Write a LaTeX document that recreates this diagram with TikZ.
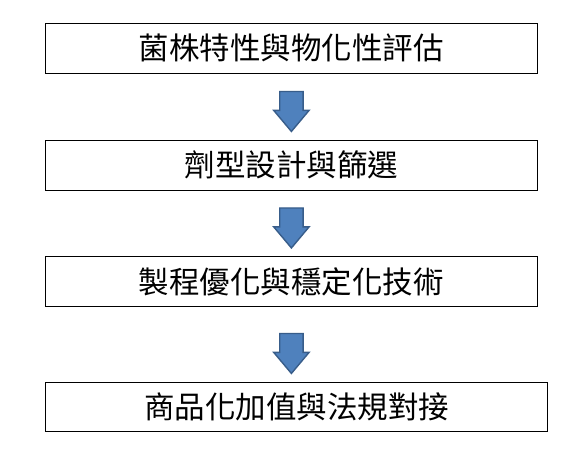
\documentclass[tikz,border=0pt]{standalone}
\usepackage{fontspec}
\newfontfamily\cjk{Noto Sans CJK TC}
\usetikzlibrary{shapes.arrows,calc}
\definecolor{arrowfill}{RGB}{79,129,189}
\definecolor{arrowline}{RGB}{56,93,138}
\begin{document}
\begin{tikzpicture}[x=1pt,y=1pt,
    stagebox/.style={draw, line width=1.1pt, minimum width=492pt, minimum height=50pt,
        inner sep=0pt, font=\cjk\fontsize{30.5}{32}\selectfont},
    blkarrow/.style={single arrow, shape border rotate=270, fill=arrowfill, draw=arrowline,
        line width=1.4pt, minimum height=40pt, minimum width=34pt, inner sep=11pt,
        single arrow head extend=6pt, single arrow tip angle=80}]
    \useasboundingbox (0,0) rectangle (575,-464);
    % the four stages
    \node[stagebox] (strain) at (291.4,-48.2) {菌株特性與物化性評估};
    \node[stagebox] (design) at (291.4,-165.3) {劑型設計與篩選};
    \node[stagebox] (process) at (291.4,-281.4) {製程優化與穩定化技術};
    \node[stagebox, minimum width=502pt, minimum height=49pt] (market) at (296.5,-406.8) {商品化加值與法規對接};
    % block arrows between the stages
    \node[blkarrow, anchor=tail] (go1) at ($(strain.south)+(0,-17)$) {};
    \node[blkarrow, anchor=tail] (go2) at ($(design.south)+(0,-16.4)$) {};
    \node[blkarrow, anchor=tail] (go3) at ($(process.south)+(0,-25.8)$) {};
\end{tikzpicture}
\end{document}
